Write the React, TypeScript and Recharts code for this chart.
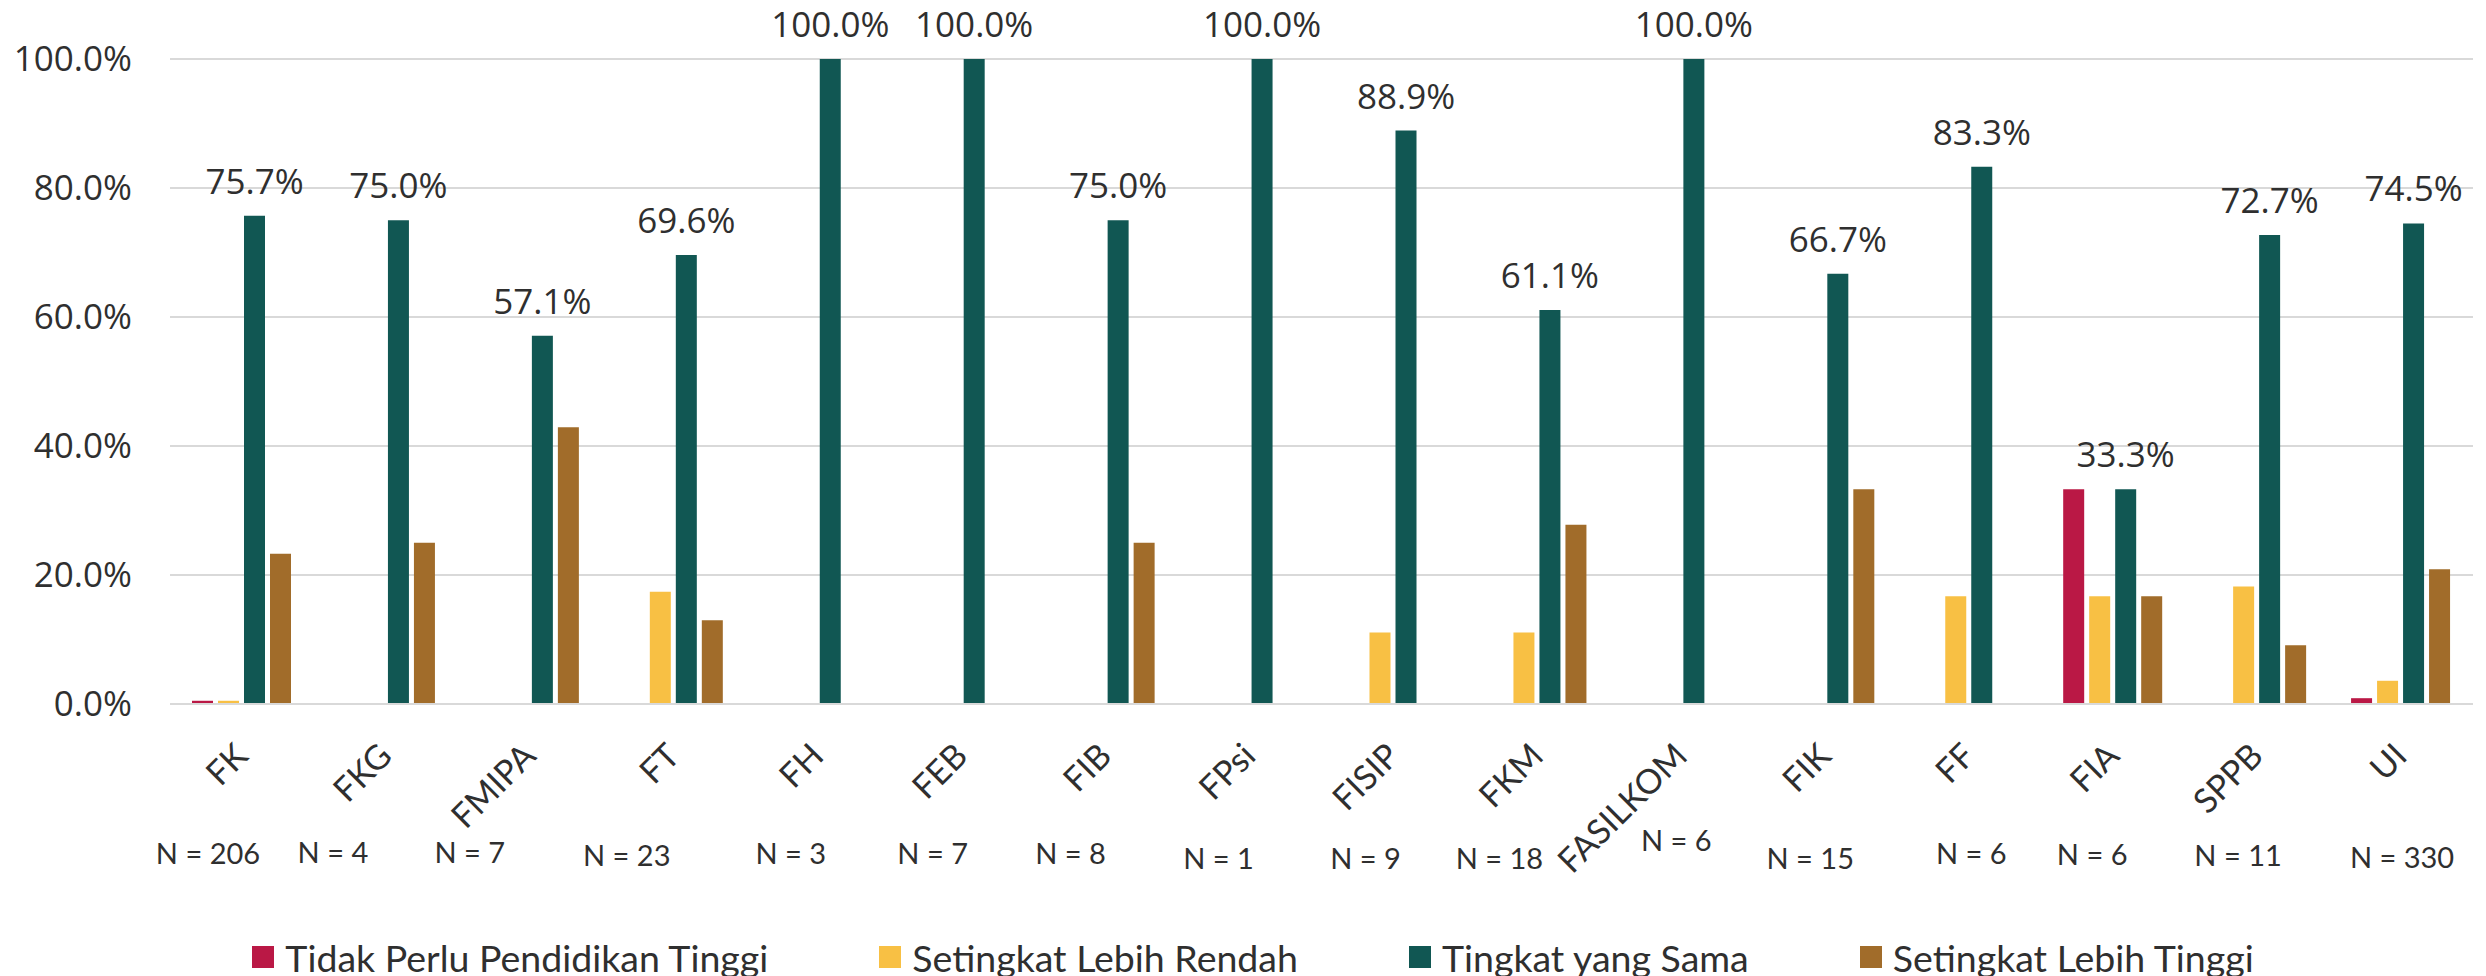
import { Bar, BarChart, CartesianGrid, LabelList, XAxis, YAxis } from "recharts"

const categories = ["FK", "FKG", "FMIPA", "FT", "FH", "FEB", "FIB", "FPsi", "FISIP", "FKM", "FASILKOM", "FIK", "FF", "FIA", "SPPB", "UI"]
const respondents = [206, 4, 7, 23, 3, 7, 8, 1, 9, 18, 6, 15, 6, 6, 11, 330]

// persen per kategori
const tidakPerlu = [0.5, 0, 0, 0, 0, 0, 0, 0, 0, 0, 0, 0, 0, 33.3, 0, 0.9]
const lebihRendah = [0.5, 0, 0, 17.4, 0, 0, 0, 0, 11.1, 11.1, 0, 0, 16.7, 16.7, 18.2, 3.6]
const tingkatSama = [75.7, 75.0, 57.1, 69.6, 100, 100, 75.0, 100, 88.9, 61.1, 100, 66.7, 83.3, 33.3, 72.7, 74.5]
const lebihTinggi = [23.3, 25.0, 42.9, 13.0, 0, 0, 25.0, 0, 0, 27.8, 0, 33.3, 0, 16.7, 9.1, 20.9]

const yTicks = [0, 20, 40, 60, 80, 100]

const series = [
  { key: "tidakPerlu", name: "Tidak Perlu Pendidikan Tinggi", color: "#BA1845" },
  { key: "lebihRendah", name: "Setingkat Lebih Rendah", color: "#F8C044" },
  { key: "sama", name: "Tingkat yang Sama", color: "#115753" },
  { key: "lebihTinggi", name: "Setingkat Lebih Tinggi", color: "#A16C2A" },
]

// posisi label N (geser dari tengah kategori), ditaruh manual seperti aslinya
const nShiftX = [-34, -53, -60, -47, -27, -29, -35, -31, -28, -38, -5, -15, 2, -21, -19, 1]
const nShiftY = [148, 147, 147, 150, 148, 148, 148, 153, 153, 153, 135, 153, 148, 149, 150, 152]

const chartData = categories.map((name, i) => ({
  name,
  tidakPerlu: tidakPerlu[i],
  lebihRendah: lebihRendah[i],
  sama: tingkatSama[i],
  lebihTinggi: lebihTinggi[i],
}))

const textColor = "#2F2F2F"
const gridColor = "#D9D9D9"

const CategoryTick = ({ x, y, payload, index }: any) => {
  const i = payload?.index ?? index
  const ax = x + 8
  const ay = y + 54
  return (
    <g>
      <text
        x={ax}
        y={ay}
        textAnchor="end"
        transform={`rotate(-45, ${ax}, ${ay})`}
        fontSize={34}
        fontFamily="Lato, sans-serif"
        fill={textColor}
      >
        {payload.value}
      </text>
      <text
        x={x + nShiftX[i]}
        y={y + nShiftY[i]}
        textAnchor="middle"
        dominantBaseline="central"
        fontSize={29}
        fontFamily="Lato, sans-serif"
        fill={textColor}
      >
        {`N = ${respondents[i]}`}
      </text>
    </g>
  )
}

export default function App() {
  return (
    <div style={{ position: "absolute", left: 0, top: 0, width: 2486, height: 976, background: "#fff" }}>
      <BarChart
        width={2486}
        height={976}
        data={chartData}
        margin={{ top: 59, right: 13, bottom: 0, left: 0 }}
        barSize={21}
        barGap={5}
      >
        <CartesianGrid vertical={false} stroke={gridColor} strokeWidth={2} />
        <XAxis
          dataKey="name"
          interval={0}
          height={272}
          tickLine={false}
          tickSize={0}
          tickMargin={0}
          axisLine={{ stroke: gridColor, strokeWidth: 2 }}
          tick={<CategoryTick />}
        />
        <YAxis
          width={170}
          domain={[0, 100]}
          ticks={yTicks}
          axisLine={false}
          tickLine={false}
          tickSize={0}
          tickMargin={38}
          tickFormatter={(v: number) => `${v.toFixed(1)}%`}
          tick={{ fontSize: 35, fill: textColor, fontFamily: "'Open Sans', sans-serif" }}
        />
        {series.map((s) => (
          <Bar key={s.key} dataKey={s.key} name={s.name} fill={s.color} isAnimationActive={false}>
            {s.key === "sama" && (
              <LabelList
                dataKey="sama"
                position="top"
                offset={22}
                formatter={(v: any) => `${Number(v).toFixed(1)}%`}
                style={{ fontSize: 35, fill: textColor, fontFamily: "'Open Sans', sans-serif" }}
              />
            )}
          </Bar>
        ))}
      </BarChart>
      <div
        style={{
          position: "absolute",
          left: 0,
          top: 935,
          width: 2486,
          height: 44,
          display: "flex",
          justifyContent: "center",
          alignItems: "center",
          gap: 111,
          paddingLeft: 20,
          boxSizing: "border-box",
          fontFamily: "Lato, sans-serif",
          fontSize: 37.5,
          color: textColor,
        }}
      >
        {series.map((s) => (
          <div key={s.key} style={{ display: "flex", alignItems: "center" }}>
            <span style={{ width: 22, height: 22, background: s.color, marginRight: 11, display: "inline-block" }} />
            <span>{s.name}</span>
          </div>
        ))}
      </div>
    </div>
  )
}
